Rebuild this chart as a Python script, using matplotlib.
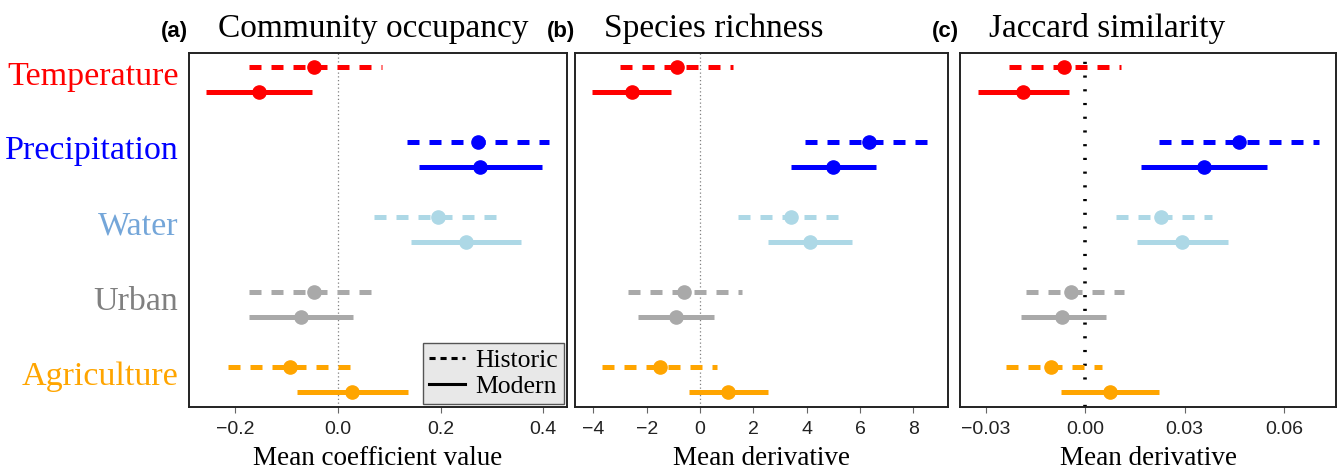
import numpy as np
import matplotlib
matplotlib.use("Agg")
import matplotlib.pyplot as plt
from matplotlib.lines import Line2D

plt.rcParams["font.family"] = ["Liberation Serif", "DejaVu Serif"]

categories = ["Temperature", "Precipitation", "Water", "Urban", "Agriculture"]
line_colors = ["#ff0000", "#0000ff", "#add8e6", "#a9a9a9", "#ffa500"]
label_colors = ["#ff0000", "#0000ff", "#74a6d9", "#808080", "#ffa500"]

# (a) community occupancy: mean, low, high
occ_hist_mean = [-0.046, 0.272, 0.194, -0.047, -0.093]
occ_hist_low = [-0.173, 0.134, 0.070, -0.173, -0.215]
occ_hist_high = [0.085, 0.410, 0.321, 0.084, 0.042]
occ_mod_mean = [-0.154, 0.277, 0.249, -0.071, 0.028]
occ_mod_low = [-0.257, 0.158, 0.143, -0.173, -0.079]
occ_mod_high = [-0.050, 0.398, 0.356, 0.029, 0.136]

# (b) species richness
ric_hist_mean = [-0.87, 6.34, 3.41, -0.59, -1.51]
ric_hist_low = [-3.00, 3.94, 1.41, -2.71, -3.66]
ric_hist_high = [1.25, 8.79, 5.44, 1.56, 0.62]
ric_mod_mean = [-2.56, 5.00, 4.12, -0.91, 1.06]
ric_mod_low = [-4.06, 3.41, 2.56, -2.31, -0.41]
ric_mod_high = [-1.10, 6.59, 5.69, 0.53, 2.54]

# (c) Jaccard similarity
jac_hist_mean = [-0.0065, 0.0464, 0.0229, -0.0042, -0.0105]
jac_hist_low = [-0.0232, 0.0223, 0.0094, -0.0178, -0.0241]
jac_hist_high = [0.0107, 0.0707, 0.0382, 0.0117, 0.0051]
jac_mod_mean = [-0.0188, 0.0360, 0.0293, -0.0071, 0.0075]
jac_mod_low = [-0.0326, 0.0169, 0.0157, -0.0196, -0.0075]
jac_mod_high = [-0.0049, 0.0548, 0.0431, 0.0063, 0.0224]

panels = [
    ("(a)", "Community occupancy", "Mean coefficient value",
     (occ_hist_mean, occ_hist_low, occ_hist_high, occ_mod_mean, occ_mod_low, occ_mod_high),
     (-0.290, 0.446), [-0.2, 0.0, 0.2, 0.4], ["\u22120.2", "0.0", "0.2", "0.4"]),
    ("(b)", "Species richness", "Mean derivative",
     (ric_hist_mean, ric_hist_low, ric_hist_high, ric_mod_mean, ric_mod_low, ric_mod_high),
     (-4.69, 9.3), [-4, -2, 0, 2, 4, 6, 8], ["\u22124", "\u22122", "0", "2", "4", "6", "8"]),
    ("(c)", "Jaccard similarity", "Mean derivative",
     (jac_hist_mean, jac_hist_low, jac_hist_high, jac_mod_mean, jac_mod_low, jac_mod_high),
     (-0.0379, 0.0758), [-0.03, 0.0, 0.03, 0.06], ["\u22120.03", "0.00", "0.03", "0.06"]),
]

W, H = 1338, 472
fig = plt.figure(figsize=(W / 100, H / 100), dpi=100)
boxes = [(189, 567), (575, 948), (960, 1336)]
top_px, bot_px = 53, 407

lw = 3.6
ms = 9.5
for k, (tag, title, xlabel, data, xlim, ticks, ticklabels) in enumerate(panels):
    l, r = boxes[k]
    ax = fig.add_axes([l / W, 1 - bot_px / H, (r - l) / W, (bot_px - top_px) / H])
    hm, hl, hh, mm, ml, mh = data
    if k == 2:
        ax.axvline(0, color="black", ls=(0, (0.6, 3.2)), lw=2.6, zorder=1)
    else:
        ax.axvline(0, color="#808080", ls=(0, (1, 2)), lw=0.9, zorder=1)
    for i in range(len(categories)):
        c = line_colors[i]
        yh, ym = 3 * i, 3 * i + 1
        ax.plot([hl[i], hh[i]], [yh, yh], color=c, lw=lw, dashes=(2.4, 2.0),
                solid_capstyle="butt", dash_capstyle="butt", zorder=2)
        ax.plot(hm[i], yh, "o", color=c, ms=ms, zorder=3)
        ax.plot([ml[i], mh[i]], [ym, ym], color=c, lw=lw, solid_capstyle="butt", zorder=2)
        ax.plot(mm[i], ym, "o", color=c, ms=ms, zorder=3)
    ax.set_xlim(*xlim)
    ax.set_ylim(13.6, -0.56)
    ax.set_xticks(ticks)
    ax.set_xticklabels(ticklabels, family="Liberation Sans", fontsize=14, color="#222222")
    ax.tick_params(axis="x", length=4, width=0.8, color="#666666", pad=6)
    ax.set_yticks([])
    for s in ax.spines.values():
        s.set_linewidth(1.4)
        s.set_color("#222222")
    ax.set_xlabel(xlabel, fontsize=19.5, labelpad=6)
    fig.text((l - 28) / W, 1 - 37 / H, tag, family="Liberation Sans", weight="bold",
             fontsize=16, ha="left", va="baseline")
    fig.text((l + 29) / W, 1 - 37 / H, title, fontsize=24, ha="left", va="baseline")
    if k == 0:
        for i, name in enumerate(categories):
            ax.text(-0.028, 3 * i + 0.5 + 0.2, name, transform=ax.get_yaxis_transform(),
                    ha="right", va="baseline", fontsize=24.5, color=label_colors[i])
        handles = [Line2D([], [], color="black", lw=2.2, dashes=(2, 1.6)),
                   Line2D([], [], color="black", lw=2.2)]
        leg = ax.legend(handles, ["Historic", "Modern"], loc="lower right",
                        fontsize=18.5, handlelength=1.4, handletextpad=0.4,
                        borderaxespad=0.1, borderpad=0.25, labelspacing=0.12,
                        fancybox=False, frameon=True)
        leg.get_frame().set_facecolor("#e8e8e8")
        leg.get_frame().set_edgecolor("#555555")
        leg.get_frame().set_linewidth(1.0)
        leg.get_frame().set_alpha(1)

fig.savefig("out.png", dpi=100)
